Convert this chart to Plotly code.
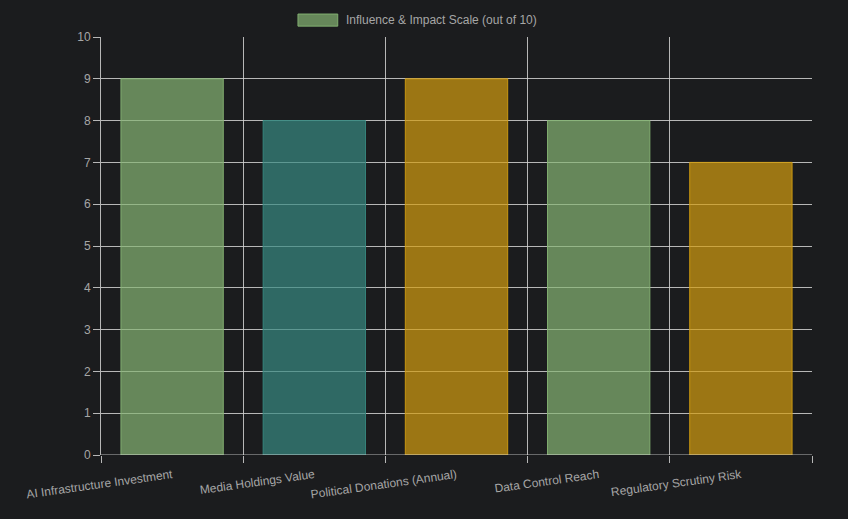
import plotly.graph_objects as go

categories = ["AI Infrastructure Investment", "Media Holdings Value", "Political Donations (Annual)",
              "Data Control Reach", "Regulatory Scrutiny Risk"]
values = [9, 8, 9, 8, 7]
series_name = "Influence & Impact Scale (out of 10)"
fill_colors = ["rgba(134,181,116,0.7)", "rgba(55,138,129,0.7)", "rgba(211,157,16,0.7)",
               "rgba(134,181,116,0.7)", "rgba(211,157,16,0.7)"]
line_colors = ["rgba(134,181,116,0.9)", "rgba(55,138,129,0.9)", "rgba(211,157,16,0.9)",
               "rgba(134,181,116,0.9)", "rgba(211,157,16,0.9)"]
y_ticks = list(range(0, 11))

bg = "#1b1c1e"
grid = "rgba(210,210,210,0.85)"
tick_font = dict(family="Liberation Sans, Arial, sans-serif", size=12, color="#a6a6a6")

xs = list(range(len(categories)))
fig = go.Figure()
fig.add_trace(go.Bar(x=xs, y=values, width=0.72, name=series_name,
                     marker=dict(color=fill_colors, line=dict(color=line_colors, width=1)),
                     showlegend=False))
fig.add_trace(go.Scatter(x=[-0.5, len(categories) - 0.5], y=[0, 0], xaxis="x2", mode="markers",
                         marker=dict(opacity=0), showlegend=False, hoverinfo="skip"))

rng = [-0.5, len(categories) - 0.5]
fig.update_layout(
    width=848, height=519,
    paper_bgcolor=bg, plot_bgcolor=bg,
    margin=dict(l=101, r=36, t=37, b=64),
    xaxis=dict(range=rng, tickvals=xs, ticktext=categories, tickangle=-8,
               showgrid=False, ticks="", tickfont=tick_font, zeroline=False,
               showline=False, ticklabelstandoff=10),
    xaxis2=dict(range=rng, overlaying="x", tickvals=[i - 0.5 for i in range(len(categories) + 1)],
                showticklabels=False, showgrid=True, gridcolor=grid, gridwidth=1,
                ticks="outside", ticklen=7, tickcolor=grid, zeroline=False, side="bottom",
                showline=False),
    yaxis=dict(range=[0, 10], tickvals=y_ticks, showgrid=True, gridcolor=grid, gridwidth=1,
               ticks="outside", ticklen=7, tickcolor=grid, tickfont=tick_font,
               zeroline=False, showline=True, linecolor=grid),
    showlegend=False,
)
fig.add_shape(type="line", xref="paper", yref="y", x0=0, x1=1, y0=0, y1=0,
              line=dict(color=grid, width=1))
fig.add_shape(type="rect", xref="paper", yref="paper", x0=0.277, x1=0.333, y0=1.026, y1=1.055,
              fillcolor=fill_colors[0], line=dict(color=line_colors[0], width=1))
fig.add_annotation(xref="paper", yref="paper", x=0.342, y=1.041, text=series_name,
                   showarrow=False, xanchor="left", yanchor="middle",
                   font=dict(family="Liberation Sans, Arial, sans-serif", size=12, color="#a6a6a6"))
fig.write_html("out.html", config={"displayModeBar": False},
               post_script="document.body.style.margin='0';document.body.style.background='#1b1c1e';")
